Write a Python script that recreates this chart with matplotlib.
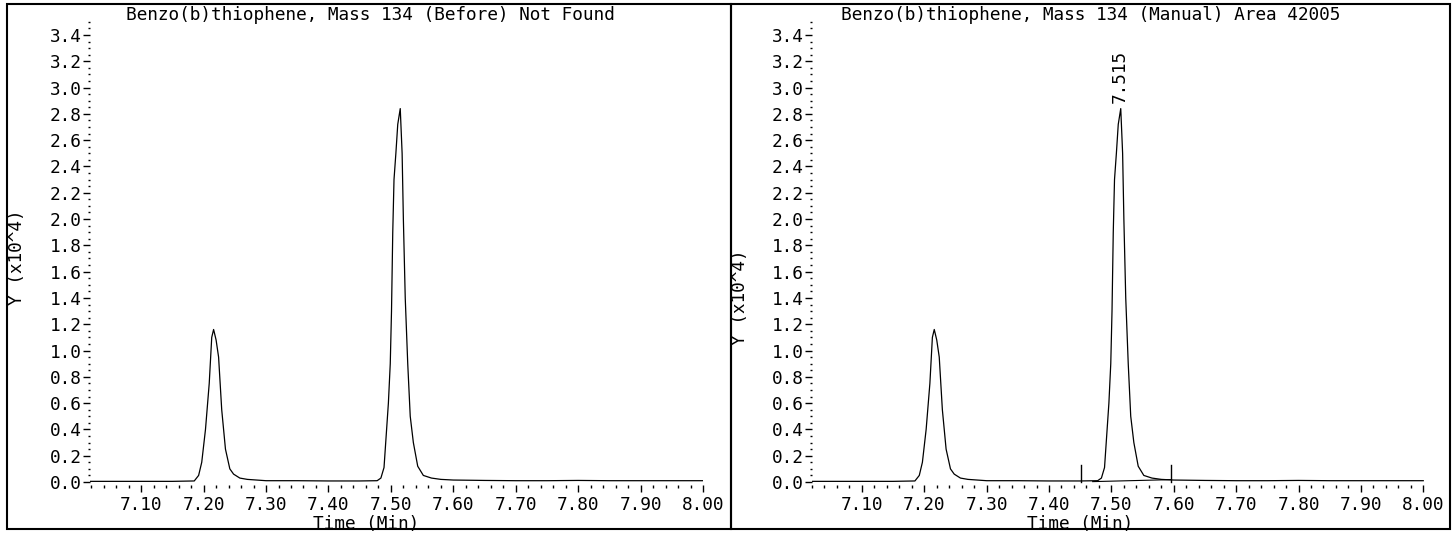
import numpy as np
import matplotlib
matplotlib.use("Agg")
import matplotlib.pyplot as plt
from matplotlib.ticker import FixedLocator, MultipleLocator, FormatStrFormatter
from matplotlib.patches import Rectangle

# ---- data (time in minutes, intensity in units of 10^4) ----
time_min = [7.018, 7.05, 7.10, 7.15, 7.185, 7.192, 7.197, 7.203, 7.209, 7.213,
            7.216, 7.220, 7.224, 7.229, 7.235, 7.242, 7.248, 7.258, 7.270, 7.285,
            7.30, 7.35, 7.40, 7.45, 7.478, 7.484, 7.489, 7.492, 7.496, 7.499,
            7.501, 7.503, 7.505, 7.508, 7.511, 7.515, 7.518, 7.520, 7.523, 7.527,
            7.531, 7.536, 7.543, 7.552, 7.565, 7.580, 7.60, 7.65, 7.70, 7.75,
            7.80, 7.85, 7.90, 7.95, 8.00]
intensity_e4 = [0.005, 0.005, 0.005, 0.005, 0.008, 0.05, 0.15, 0.40, 0.75, 1.10,
                1.16, 1.08, 0.95, 0.55, 0.25, 0.10, 0.06, 0.03, 0.02, 0.015,
                0.01, 0.01, 0.008, 0.008, 0.01, 0.03, 0.11, 0.32, 0.60, 0.90,
                1.30, 1.90, 2.30, 2.50, 2.72, 2.84, 2.50, 2.00, 1.40, 0.90,
                0.50, 0.30, 0.12, 0.05, 0.03, 0.02, 0.015, 0.012, 0.01, 0.01,
                0.012, 0.01, 0.01, 0.01, 0.01]

panel_titles = ["Benzo(b)thiophene, Mass 134 (Before) Not Found",
                "Benzo(b)thiophene, Mass 134 (Manual) Area 42005"]
x_ticks = [7.10, 7.20, 7.30, 7.40, 7.50, 7.60, 7.70, 7.80, 7.90, 8.00]
y_ticks = [0.0, 0.2, 0.4, 0.6, 0.8, 1.0, 1.2, 1.4, 1.6, 1.8, 2.0, 2.2, 2.4,
           2.6, 2.8, 3.0, 3.2, 3.4]
peak_label = "7.515"
peak_time = 7.515
peak_height = 2.84
marker_times = [7.452, 7.596]
marker_height = 0.13
baseline_t = [7.47, 7.596]
baseline_y = [0.003, 0.018]

plt.rcParams['font.family'] = ['DejaVu Sans Mono']
FS = 12.8

W, H = 1456, 534
fig = plt.figure(figsize=(W / 100, H / 100), dpi=100)


def px_rect(x0, top, w, h):
    return [x0 / W, 1 - (top + h) / H, w / W, h / H]


axes_specs = [
    dict(x0=90, w=613, xlim=(7.018, 8.0), title_x=370, xlabel_x=366, ylabel_x=17, ylabel_y=257),
    dict(x0=812, w=615, xlim=(7.02, 8.006), title_x=1091, xlabel_x=1080, ylabel_x=740, ylabel_y=297),
]
ax_top, ax_h = 21.8, 463.5

axes = []
for i, spec in enumerate(axes_specs):
    ax = fig.add_axes(px_rect(spec['x0'], ax_top, spec['w'], ax_h))
    ax.set_xlim(*spec['xlim'])
    ax.set_ylim(-0.025, 3.5)
    ax.plot(time_min, intensity_e4, color='black', lw=0.9)
    for s in ax.spines.values():
        s.set_visible(False)
    ax.xaxis.set_major_locator(FixedLocator(x_ticks))
    ax.xaxis.set_minor_locator(MultipleLocator(0.02))
    ax.xaxis.set_major_formatter(FormatStrFormatter('%.2f'))
    ax.yaxis.set_major_locator(FixedLocator(y_ticks))
    ax.yaxis.set_minor_locator(MultipleLocator(0.05))
    ax.yaxis.set_major_formatter(FormatStrFormatter('%.1f'))
    ax.tick_params(axis='x', which='major', direction='out', length=5, width=1,
                   pad=3, labelsize=FS)
    ax.tick_params(axis='x', which='minor', direction='out', length=2.5, width=1)
    ax.tick_params(axis='y', which='major', direction='out', length=5, width=1,
                   pad=1, labelsize=FS)
    ax.tick_params(axis='y', which='minor', direction='out', length=1.5, width=1)
    ax.set_facecolor('none')
    fig.text(spec['title_x'] / W, 1 - 15 / H, panel_titles[i], ha='center',
             va='center', fontsize=FS)
    fig.text(spec['xlabel_x'] / W, 1 - 524 / H, "Time (Min)", ha='center',
             va='center', fontsize=FS)
    fig.text(spec['ylabel_x'] / W, 1 - spec['ylabel_y'] / H, "Y (x10^4)",
             ha='center', va='center', rotation=90, fontsize=FS)
    axes.append(ax)

# right panel extras
axr = axes[1]
axr.text(peak_time - 0.002, peak_height + 0.04, peak_label, rotation=90,
         ha='center', va='bottom', fontsize=FS)
for t in marker_times:
    axr.plot([t, t], [0, marker_height], color='black', lw=1.0)
axr.plot(baseline_t, baseline_y, color='black', lw=0.8)

# outer frames
for (x0, x1) in [(7, 731), (731, 1450)]:
    fig.add_artist(Rectangle((x0 / W, 1 - 529 / H), (x1 - x0) / W, (529 - 4) / H,
                             transform=fig.transFigure, fill=False,
                             lw=1.5, ec='black'))

fig.savefig('out.png', dpi=100)
